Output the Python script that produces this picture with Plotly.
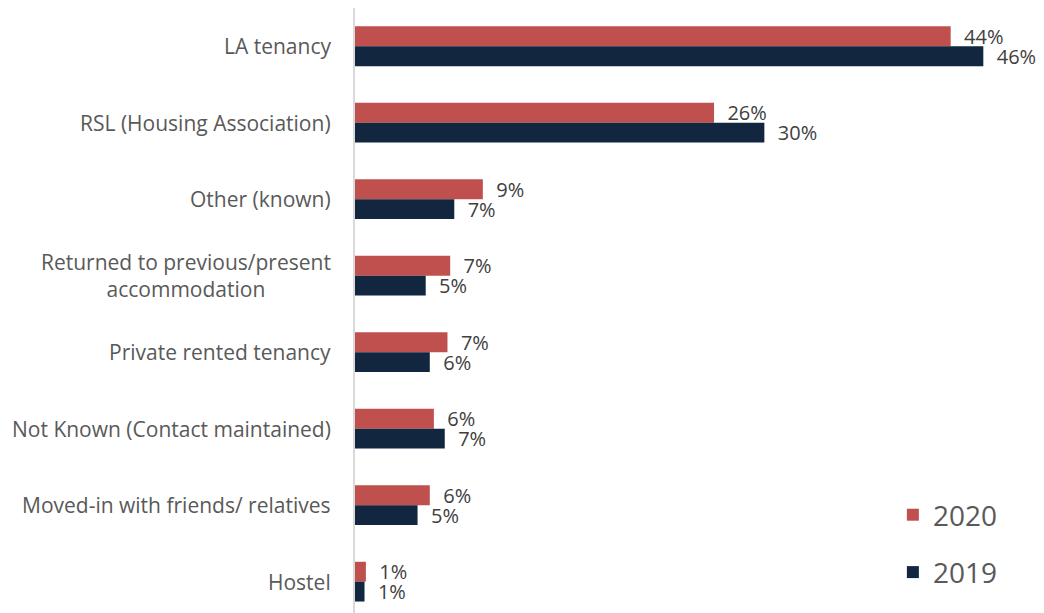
import plotly.graph_objects as go

categories = [
    'LA tenancy',
    'RSL (Housing Association)',
    'Other (known)',
    'Returned to previous/present<br>accommodation',
    'Private rented tenancy',
    'Not Known (Contact maintained)',
    'Moved-in with friends/ relatives',
    'Hostel',
]
values_2020 = [43.8, 26.4, 9.4, 7.0, 6.8, 5.8, 5.5, 0.8]
values_2019 = [46.2, 30.1, 7.3, 5.2, 5.5, 6.6, 4.6, 0.7]
series_names = ['2020', '2019']

colors = {'2020': '#C0504D', '2019': '#13263F'}
font_family = 'Open Sans, Arial, sans-serif'


def pct_text(vals):
    # data labels: nbsp pad to push the label away from the bar end
    return ['\u00a0\u00a0' + f'{round(v)}%' for v in vals]


fig = go.Figure()

for name, vals in zip(series_names, [values_2020, values_2019]):
    fig.add_trace(go.Bar(
        y=categories,
        x=vals,
        name=name,
        orientation='h',
        marker=dict(color=colors[name], line=dict(width=0)),
        text=pct_text(vals),
        textposition='outside',
        textfont=dict(family=font_family, size=20, color='#404040'),
        constraintext='none',
        cliponaxis=False,
        legendgroup=name,
        hoverinfo='skip',
    ))

# category labels as annotations so the two-line one is centred
for cat in categories:
    fig.add_annotation(
        x=0, xref='paper', y=cat, yref='y',
        text=cat, showarrow=False,
        xanchor='right', xshift=-22, align='center',
        font=dict(family=font_family, size=21, color='#595959'),
    )

# page body has an 8px margin, so the figure is sized to fit the window
fig.update_layout(
    width=1036,
    height=605,
    margin=dict(l=347, r=9, t=0, b=0, autoexpand=False),
    paper_bgcolor='white',
    plot_bgcolor='white',
    barmode='group',
    bargap=0.48,
    bargroupgap=0,
    showlegend=True,
    legend=dict(
        x=0.791, xanchor='left',
        y=0.2033, yanchor='top',
        font=dict(family=font_family, size=28, color='#595959'),
        traceorder='grouped',
        tracegroupgap=18,
        bgcolor='rgba(0,0,0,0)',
    ),
    xaxis=dict(
        range=[0, 50],
        showgrid=False,
        zeroline=False,
        showticklabels=False,
        showline=False,
    ),
    yaxis=dict(
        categoryorder='array',
        categoryarray=categories,
        range=[7.41, -0.5],
        showgrid=False,
        zeroline=False,
        showticklabels=False,
        showline=True,
        linecolor='#D9D9D9',
        linewidth=2,
    ),
)

fig.write_html('out.html')
